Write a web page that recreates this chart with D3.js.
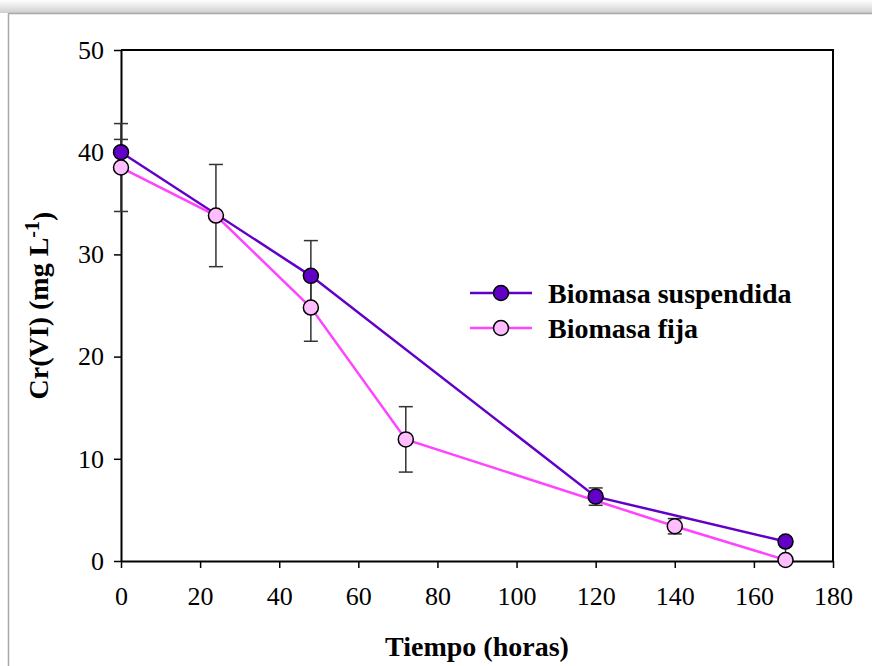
<!DOCTYPE html>
<html>
<head>
<meta charset="utf-8">
<script src="https://cdn.jsdelivr.net/npm/d3@7/dist/d3.min.js"></script>
<style>
html,body{margin:0;padding:0;background:#fff;}
svg{display:block;}
</style>
</head>
<body>
<svg id="chart" width="872" height="666"></svg>
<script>
// ---- data ----
const seriesNames = ["Biomasa suspendida", "Biomasa fija"];
const suspX = [0, 48, 120, 168];
const suspY = [40.0, 27.9, 6.3, 1.9];
const suspErr = [1.25, 3.45, 0.85, 0];
const fijaX = [0, 24, 48, 72, 140, 168];
const fijaY = [38.5, 33.8, 24.8, 11.9, 3.4, 0.1];
const fijaErr = [4.3, 5.0, 3.3, 3.2, 0.75, 1.7];
const xTicks = [0, 20, 40, 60, 80, 100, 120, 140, 160, 180];
const yTicks = [0, 10, 20, 30, 40, 50];
const xTitle = "Tiempo (horas)";
const yTitle = "Cr(VI) (mg L";
const yTitleSup = "-1";

const svg = d3.select("#chart");
const W = 872, H = 666;
const pL = 121, pR = 833, pT = 50, pB = 561;

// frame with soft top shadow
const defs = svg.append("defs");
const g1 = defs.append("linearGradient").attr("id","sh").attr("x1",0).attr("y1",0).attr("x2",0).attr("y2",1);
g1.append("stop").attr("offset","0%").attr("stop-color","#ffffff");
g1.append("stop").attr("offset","100%").attr("stop-color","#cfcfcf");
svg.append("rect").attr("x",0).attr("y",0).attr("width",W).attr("height",13).attr("fill","url(#sh)");
svg.append("rect").attr("x",8.5).attr("y",13.5).attr("width",W+20).attr("height",H+20)
  .attr("fill","#fff").attr("stroke","#a8a8a8").attr("stroke-width",1.5);

const x = d3.scaleLinear().domain([0,180]).range([pL,pR]);
const y = d3.scaleLinear().domain([0,50]).range([pB,pT]);

const font = "'Liberation Serif','Times New Roman',serif";

// box (top & right)
svg.append("path").attr("d",`M${pL},${pT}H${pR}V${pB}`)
  .attr("fill","none").attr("stroke","#000").attr("stroke-width",2);

// axes
const xAxis = svg.append("g").attr("transform",`translate(0,${pB})`)
  .call(d3.axisBottom(x).tickValues(xTicks).tickSize(7).tickPadding(18).tickSizeOuter(0));
const yAxis = svg.append("g").attr("transform",`translate(${pL},0)`)
  .call(d3.axisLeft(y).tickValues(yTicks).tickSize(7).tickPadding(10).tickSizeOuter(0));
[xAxis,yAxis].forEach(a=>{
  a.select(".domain").attr("stroke","#000").attr("stroke-width",2);
  a.selectAll(".tick line").attr("stroke","#000").attr("stroke-width",1.5);
  a.selectAll(".tick text").attr("fill","#000").style("font-family",font).style("font-size","26px");
});
xAxis.selectAll(".tick text").attr("dy","0.72em");

// titles
svg.append("text").attr("x",(pL+pR)/2).attr("y",656).attr("text-anchor","middle")
  .style("font-family",font).style("font-size","28px").style("font-weight","bold").text(xTitle);
const yt = svg.append("text").attr("transform",`translate(48,${(pT+pB)/2}) rotate(-90)`)
  .attr("text-anchor","middle").style("font-family",font).style("font-size","28px").style("font-weight","bold");
yt.append("tspan").text(yTitle);
yt.append("tspan").attr("dy","-0.45em").style("font-size","20px").text(yTitleSup);
yt.append("tspan").attr("dy","0.45em").text(")");

const sColor = ["#6200c8","#ff44ff"];
const sFill = ["#6200c8","#ffbcff"];
const data = [
  suspX.map((d,i)=>({x:d,y:suspY[i],e:suspErr[i]})),
  fijaX.map((d,i)=>({x:d,y:fijaY[i],e:fijaErr[i]}))
];

// error bars
const eg = svg.append("g");
data.forEach(s=>{
  s.filter(d=>d.e>0).forEach(d=>{
    const cx = x(d.x), y1 = y(Math.max(0,d.y-d.e)), y2 = y(d.y+d.e);
    eg.append("line").attr("x1",cx).attr("x2",cx).attr("y1",y1).attr("y2",y2).attr("stroke","#333").attr("stroke-width",1.5);
    [d.y-d.e, d.y+d.e].forEach(v=>{
      if (v<0) return;
      eg.append("line").attr("x1",cx-7).attr("x2",cx+7).attr("y1",y(v)).attr("y2",y(v)).attr("stroke","#333").attr("stroke-width",1.5);
    });
  });
});

// lines
const line = d3.line().x(d=>x(d.x)).y(d=>y(d.y));
data.forEach((s,i)=>{
  svg.append("path").datum(s).attr("d",line).attr("fill","none").attr("stroke",sColor[i]).attr("stroke-width",2.5);
});
// markers
data.forEach((s,i)=>{
  svg.append("g").selectAll("circle").data(s).join("circle")
    .attr("cx",d=>x(d.x)).attr("cy",d=>y(d.y)).attr("r",7.5)
    .attr("fill",sFill[i]).attr("stroke","#000").attr("stroke-width",1.5);
});

// legend
const lg = svg.append("g");
const rows = [293, 328];
seriesNames.forEach((n,i)=>{
  lg.append("line").attr("x1",470).attr("x2",532).attr("y1",rows[i]).attr("y2",rows[i]).attr("stroke",sColor[i]).attr("stroke-width",2.5);
  lg.append("circle").attr("cx",501).attr("cy",rows[i]).attr("r",7.5).attr("fill",sFill[i]).attr("stroke","#000").attr("stroke-width",1.5);
  lg.append("text").attr("x",548).attr("y",rows[i]+10).style("font-family",font).style("font-size","28px").style("font-weight","bold").text(n);
});
</script>
</body>
</html>
